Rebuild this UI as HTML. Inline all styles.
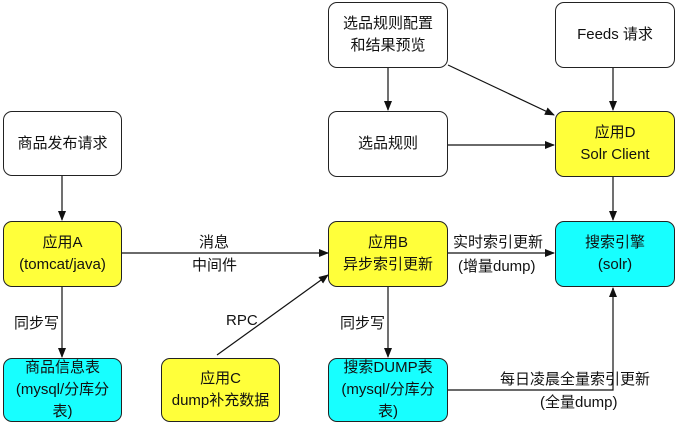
<!DOCTYPE html>
<html><head><meta charset="utf-8"><style>
body{margin:0;width:677px;height:426px;background:#fff;position:relative;overflow:hidden;font-family:"Liberation Sans","Noto Sans CJK SC",sans-serif;}
.b{position:absolute;box-sizing:border-box;border:1.3px solid #222;border-radius:9px;display:flex;align-items:center;justify-content:center;text-align:center;font-size:15px;line-height:22px;color:#111;}
.w{background:#fff}.y{background:#ffff3a}.c{background:#17ffff}
.t{position:absolute;font-size:15px;color:#111;line-height:22px;white-space:nowrap}
svg{position:absolute;left:0;top:0}
</style></head><body>
<svg width="677" height="426">
<defs><marker id="a" markerWidth="10" markerHeight="8" refX="9" refY="4" orient="auto" markerUnits="userSpaceOnUse"><path d="M0,0L10,4L0,8z" fill="#111"/></marker></defs>
<g stroke="#111" stroke-width="1.2" fill="none">
<line x1="388" y1="68" x2="388" y2="110" marker-end="url(#a)"/>
<line x1="448" y1="65" x2="554" y2="115" marker-end="url(#a)"/>
<line x1="613" y1="68" x2="613" y2="110" marker-end="url(#a)"/>
<line x1="448" y1="145" x2="554" y2="145" marker-end="url(#a)"/>
<line x1="613" y1="177" x2="613" y2="220" marker-end="url(#a)"/>
<line x1="62" y1="175" x2="62" y2="220" marker-end="url(#a)"/>
<line x1="122" y1="253" x2="328" y2="253" marker-end="url(#a)"/>
<line x1="62" y1="287" x2="62" y2="357" marker-end="url(#a)"/>
<line x1="217" y1="355" x2="328" y2="275" marker-end="url(#a)"/>
<line x1="448" y1="253" x2="554" y2="253" marker-end="url(#a)"/>
<line x1="388" y1="287" x2="388" y2="357" marker-end="url(#a)"/>
<polyline points="448,390 613,390 613,288" marker-end="url(#a)"/>
</g></svg>
<div class="b w" style="left:328px;top:2px;width:120px;height:66px">选品规则配置<br>和结果预览</div>
<div class="b w" style="left:555px;top:2px;width:120px;height:66px">Feeds 请求</div>
<div class="b w" style="left:3px;top:111px;width:119px;height:65px">商品发布请求</div>
<div class="b w" style="left:328px;top:111px;width:120px;height:66px">选品规则</div>
<div class="b y" style="left:555px;top:111px;width:120px;height:66px">应用D<br>Solr Client</div>
<div class="b y" style="left:3px;top:221px;width:119px;height:66px">应用A<br>(tomcat/java)</div>
<div class="b y" style="left:328px;top:221px;width:120px;height:66px">应用B<br>异步索引更新</div>
<div class="b c" style="left:555px;top:221px;width:120px;height:66px">搜索引擎<br>(solr)</div>
<div class="b c" style="left:3px;top:358px;width:119px;height:64px">商品信息表<br>(mysql/分库分<br>表)</div>
<div class="b y" style="left:161px;top:358px;width:119px;height:64px">应用C<br>dump补充数据</div>
<div class="b c" style="left:328px;top:358px;width:120px;height:64px">搜索DUMP表<br>(mysql/分库分<br>表)</div>
<div class="t" style="left:199px;top:232px">消息</div>
<div class="t" style="left:192px;top:255px">中间件</div>
<div class="t" style="left:14px;top:313px">同步写</div>
<div class="t" style="left:226px;top:310px">RPC</div>
<div class="t" style="left:340px;top:313px">同步写</div>
<div class="t" style="left:453px;top:232px">实时索引更新</div>
<div class="t" style="left:458px;top:256px">(增量dump)</div>
<div class="t" style="left:500px;top:369px">每日凌晨全量索引更新</div>
<div class="t" style="left:540px;top:392px">(全量dump)</div>
</body></html>
